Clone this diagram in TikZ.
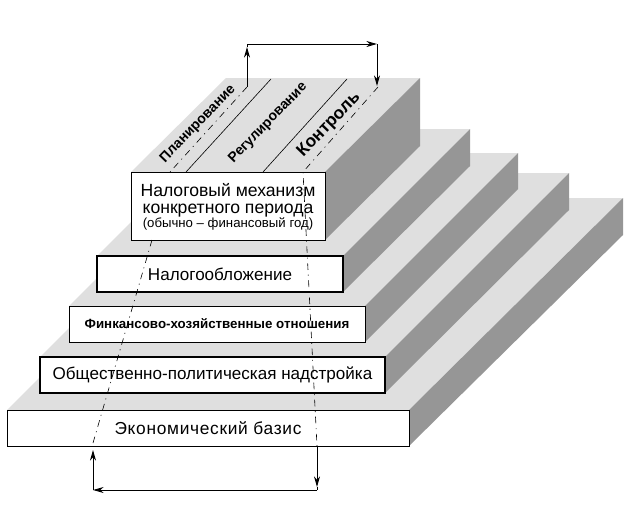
\documentclass[tikz,border=0pt]{standalone}
\usepackage{fontspec}
\setmainfont{Liberation Sans}
\usetikzlibrary{arrows.meta}
\definecolor{STEP-TOP}{RGB}{223, 223, 223}
\definecolor{STEP-SIDE}{RGB}{150, 150, 150}
\tikzset{
  stepbox/.style={draw=black, fill=white, line width=0.7pt, inner sep=0pt, minimum height=27pt},
  stepheavy/.style={stepbox, line width=0.95pt},
  slant/.style={rotate=46, font=\fontsize{10.5}{12}\selectfont\bfseries},
  axisline/.style={line width=0.45pt, dash pattern=on 5pt off 3.5pt on 0.8pt off 3.5pt},
  loopline/.style={line width=0.7pt, -{Stealth[length=8pt,width=4.5pt]}}
}
\begin{document}
\begin{tikzpicture}[x=0.75pt,y=-0.75pt]
  \useasboundingbox (0,0) rectangle (625,532);

  % Step 5 (bottom)
  \fill[STEP-TOP] (7,410) -- (219,198) -- (623,198) -- (409,410) -- cycle;
  \fill[STEP-SIDE] (409,410) -- (623,198) -- (623,235) -- (409,446) -- cycle;
  % Step 4
  \fill[STEP-TOP] (40,357) -- (224,173) -- (569,173) -- (385,357) -- cycle;
  \fill[STEP-SIDE] (385,357) -- (569,173) -- (569,210) -- (385,393) -- cycle;
  % Step 3
  \fill[STEP-TOP] (69,306) -- (222,153) -- (518,153) -- (365,306) -- cycle;
  \fill[STEP-SIDE] (365,306) -- (518,153) -- (518,189) -- (365,342) -- cycle;
  % Step 2
  \fill[STEP-TOP] (97,256) -- (224,129) -- (470,129) -- (343,256) -- cycle;
  \fill[STEP-SIDE] (343,256) -- (470,129) -- (470,166) -- (343,292) -- cycle;
  % Step 1 (top)
  \fill[STEP-TOP] (131,172) -- (226,78) -- (420,78) -- (325,172) -- cycle;
  \fill[STEP-SIDE] (325,172) -- (420,78) -- (420,146) -- (325,240) -- cycle;

  % Boxes on the front faces
  \node[stepbox, minimum width=145.5pt, minimum height=51pt] (mechanism) at (228,206) {};
  \node[stepheavy, minimum width=184.5pt] (taxation) at (220,274) {\raisebox{-1.5pt}{\fontsize{12.8}{14}\selectfont Налогообложение}};
  \node[stepbox, minimum width=222pt] (relations) at (217,324) {\fontsize{10}{12}\selectfont\bfseries Финкансово-хозяйственные отношения};
  \node[stepheavy, minimum width=258.75pt] (superstructure) at (212.5,375) {\fontsize{12.8}{14}\selectfont Общественно-политическая надстройка};
  \node[stepbox, minimum width=301.5pt] (basis) at (208,428) {\fontsize{13}{15}\addfontfeature{LetterSpace=4}\selectfont Экономический базис};

  % Text of the top box
  \node[align=center] (mechanismtext) at (228,207) {\fontsize{13.2}{14}\selectfont Налоговый механизм\\[0.5pt]
    \fontsize{13.2}{14}\selectfont конкретного периода\\[-1.5pt]
    \fontsize{9.9}{11}\selectfont (обычно – финансовый год)};

  % Slanted labels
  \node[slant] (planning) at (198,124) {Планирование};
  \node[slant] (regulation) at (268,123) {Регулирование};
  \node[slant, font=\fontsize{13}{15}\selectfont\bfseries] (control) at (329,125) {Контроль};

  % Dividers on the top face
  \coordinate (divAtop) at (271,79);
  \coordinate (divAfoot) at (186,172);
  \coordinate (divBtop) at (347,79);
  \coordinate (divBfoot) at (263,172);
  \draw[line width=0.45pt] (divAtop) -- (divAfoot);
  \draw[line width=0.45pt] (divBtop) -- (divBfoot);

  % Dash-dotted lines
  \coordinate (planTop) at (247,87);
  \coordinate (planMid) at (170,172);
  \coordinate (planLow) at (152,240);
  \coordinate (planEnd) at (93,443);
  \coordinate (ctrlTop) at (378,87);
  \coordinate (ctrlMid) at (303,172);
  \coordinate (ctrlEnd) at (317,446);
  \draw[axisline] (planTop) -- (planMid);
  \draw[axisline] (planLow) -- (planEnd);
  \draw[axisline] (ctrlTop) -- (ctrlMid) -- (ctrlEnd);

  % Loop above the pyramid
  \coordinate (upTip) at (247,47);
  \coordinate (upA) at (247,44);
  \coordinate (upB) at (377,44);
  \coordinate (upC) at (377,86);
  \draw[loopline] (planTop) -- (upTip);
  \draw[line width=0.7pt] (upTip) -- (upA);
  \draw[loopline] (upA) -- (upB);
  \draw[loopline] (upB) -- (upC);

  % Loop below the pyramid
  \coordinate (lowTip) at (317,487);
  \coordinate (lowA) at (317,490);
  \coordinate (lowB) at (93,490);
  \coordinate (lowC) at (93,450);
  \draw[loopline] (ctrlEnd) -- (lowTip);
  \draw[line width=0.7pt] (lowTip) -- (lowA);
  \draw[loopline] (lowA) -- (lowB);
  \draw[loopline] (lowB) -- (lowC);
\end{tikzpicture}
\end{document}
